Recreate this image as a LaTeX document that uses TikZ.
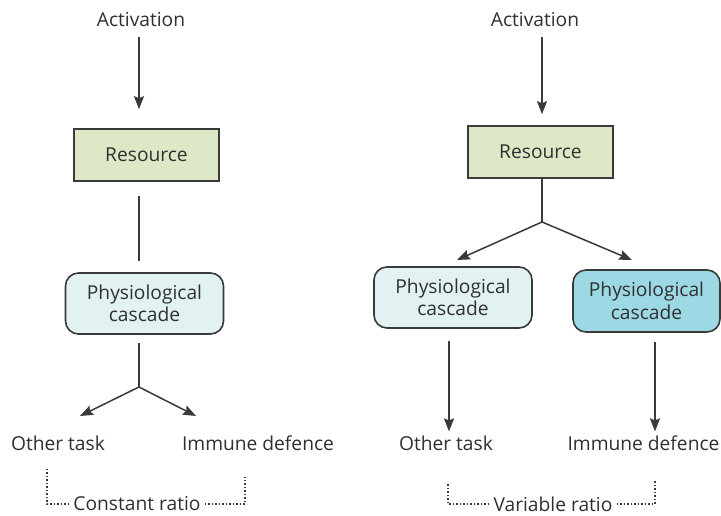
\documentclass[tikz,border=0pt]{standalone}
\usepackage{fontspec}
\newfontfamily\imfont{Open Sans}
\usetikzlibrary{arrows.meta,positioning}
\definecolor{imink}{HTML}{303030}
\definecolor{imedge}{HTML}{3A3A3A}
\definecolor{imgreen}{HTML}{DDE9C6}
\definecolor{impale}{HTML}{E2F2F3}
\definecolor{imcyan}{HTML}{9DD9E4}
\newcommand{\imtext}{\imfont\fontsize{19.2}{22.5}\selectfont}
\tikzstyle{imlabel}=[text=imink,align=center,inner sep=3pt]
\tikzstyle{imres}=[draw=imedge,fill=imgreen,text=imink,line width=1.6pt,
  minimum width=145pt,minimum height=52pt,align=center]
\tikzstyle{imcascade}=[draw=imedge,fill=impale,text=imink,line width=1.6pt,rounded corners=13pt,
  minimum width=158pt,minimum height=61pt,align=center,inner sep=2pt]
\tikzstyle{imarrow}=[-{Stealth[length=13pt,width=10pt,inset=2pt]},draw=imedge,line width=1.5pt]
\tikzstyle{imline}=[draw=imedge,line width=1.5pt]
\tikzstyle{imratio}=[draw=imedge,line width=1.8pt,dash pattern=on 1.6pt off 1.9pt]

\begin{document}
\begin{tikzpicture}[x=1pt,y=-1pt,every node/.style={font=\imtext}]
  \useasboundingbox[fill=white] (0,0) rectangle (721,516);

  % ---- left: one cascade, constant ratio ----
  \node[imlabel] (actL) at (141,20) {Activation};
  \node[imres] (resL) at (146.5,155) {Resource};
  \node[imcascade] (casL) at (144.5,303.5) {Physiological\\cascade};
  \coordinate (forkL) at (139,387);
  \coordinate (tipL1) at (80,416);
  \coordinate (tipL2) at (196,416);
  \node[imlabel] (otherL) at (58,443) {Other task};
  \node[imlabel] (immL) at (258,443) {Immune defence};

  \draw[imarrow,shorten <=7pt,shorten >=19pt] (actL.south -| forkL) -- (resL.north -| forkL);
  \draw[imline,shorten <=14pt,shorten >=11pt] (resL.south -| forkL) -- (casL.north -| forkL);
  \draw[imline,shorten <=8pt] (casL.south -| forkL) -- (forkL);
  \draw[imarrow] (forkL) -- (tipL1);
  \draw[imarrow] (forkL) -- (tipL2);

  \node[imlabel,inner sep=4pt] (ratioL) at (137,504) {Constant ratio};
  \coordinate (brkL1) at (47,467);
  \coordinate (brkL2) at (245,477);
  \draw[imratio] (ratioL.west) -| (brkL1);
  \draw[imratio] (ratioL.east) -| (brkL2);

  % ---- right: two cascades, variable ratio ----
  \node[imlabel] (actR) at (535,20) {Activation};
  \node[imres] (resR) at (540.5,152) {Resource};
  \coordinate (forkR) at (542,222);
  \coordinate (tipR1) at (457,260);
  \coordinate (tipR2) at (632,260);
  \node[imcascade] (casR1) at (453,297.5) {Physiological\\cascade};
  \node[imcascade,fill=imcyan,minimum width=147pt,minimum height=62pt] (casR2) at (646.5,301) {Physiological\\cascade};
  \node[imlabel] (otherR) at (446,443) {Other task};
  \node[imlabel] (immR) at (643.5,443) {Immune defence};

  \draw[imarrow,shorten <=7pt,shorten >=11pt] (actR.south -| forkR) -- (resR.north -| forkR);
  \draw[imline] (resR.south -| forkR) -- (forkR);
  \draw[imarrow] (forkR) -- (tipR1);
  \draw[imarrow] (forkR) -- (tipR2);
  \draw[imarrow,shorten <=12pt,shorten >=1pt] ([xshift=-4pt]casR1.south) -- ([xshift=-4pt]casR1.south |- otherR.north);
  \draw[imarrow,shorten <=9pt,shorten >=1pt] ([xshift=8.5pt]casR2.south) -- ([xshift=8.5pt]casR2.south |- immR.north);

  \node[imlabel,inner sep=4pt] (ratioR) at (553,504) {Variable ratio};
  \coordinate (brkR1) at (448,483);
  \coordinate (brkR2) at (655,480);
  \draw[imratio] (ratioR.west) -| (brkR1);
  \draw[imratio] (ratioR.east) -| (brkR2);
\end{tikzpicture}
\end{document}
